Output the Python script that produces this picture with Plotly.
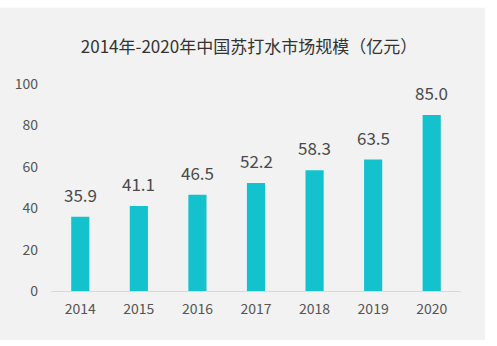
import plotly.graph_objects as go

years = ["2014", "2015", "2016", "2017", "2018", "2019", "2020"]
values = [35.9, 41.1, 46.5, 52.2, 58.3, 63.5, 85.0]
y_ticks = [0, 20, 40, 60, 80, 100]
title_text = "2014年-2020年中国苏打水市场规模（亿元）"

W, H = 497, 346
L, R, T, B = 51, 36, 83.5, 55
pw, ph = W - L - R, H - T - B

def px_x(p):
    return (p - L) / pw

def px_y(p):
    return (H - B - p) / ph

FONT = "Noto Sans CJK SC, Open Sans, sans-serif"
TXT = "#555555"
BAR = "#14C2CD"

fig = go.Figure()
fig.add_trace(go.Bar(x=years, y=values, marker=dict(color=BAR, line=dict(width=0)),
                     width=0.31, hoverinfo="skip"))

for i, v in enumerate(values):
    fig.add_annotation(x=i, y=v, xref="x", yref="y", text=f"{v:.1f}", showarrow=False,
                       yanchor="bottom", yshift=8,
                       font=dict(family=FONT, size=17, color="#4a4a4a"))

fig.add_shape(type="rect", xref="paper", yref="paper",
              x0=px_x(0), x1=px_x(485), y0=px_y(340), y1=px_y(7),
              fillcolor="#f2f2f2", line=dict(width=0), layer="below")

fig.update_layout(
    width=W, height=H,
    margin=dict(l=L, r=R, t=T, b=B, pad=0),
    paper_bgcolor="white", plot_bgcolor="rgba(0,0,0,0)",
    showlegend=False,
    title=dict(text=title_text, x=px_x(249), xanchor="center", xref="paper",
               y=1 - 47 / H, yanchor="middle", yref="container",
               font=dict(family=FONT, size=17, color="#333333")),
    xaxis=dict(type="category", showgrid=False, showline=True, linecolor="#d9d9d9",
               linewidth=1, ticks="", tickfont=dict(family=FONT, size=14, color=TXT),
               range=[-0.5, 6.5], fixedrange=True, ticklabelstandoff=5),
    yaxis=dict(range=[0, 100], tickvals=y_ticks, showgrid=False, zeroline=False,
               showline=False, ticks="", tickfont=dict(family=FONT, size=14, color=TXT),
               ticklabelstandoff=12, fixedrange=True),
    bargap=0.69,
)

fig.write_html("out.html")
